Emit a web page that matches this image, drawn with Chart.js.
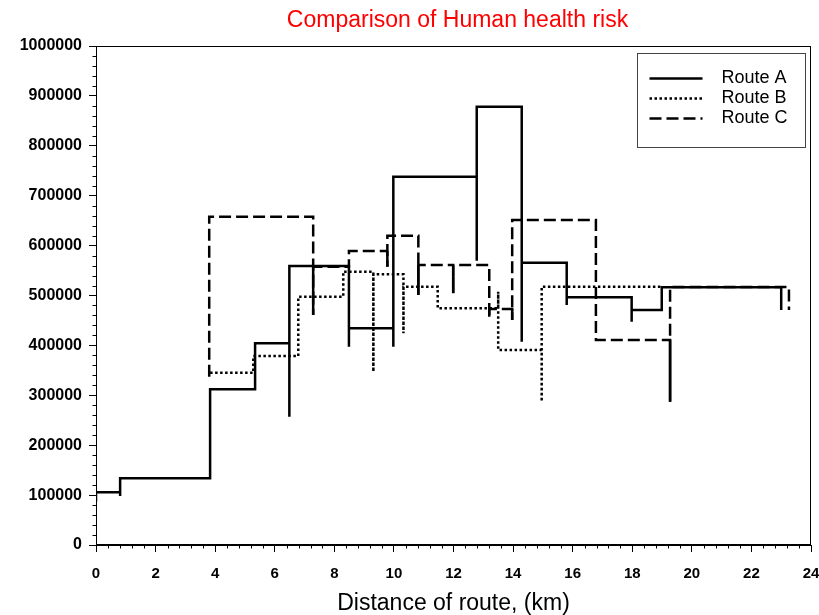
<!DOCTYPE html>
<html>
<head>
<meta charset="utf-8">
<title>Comparison of Human health risk</title>
<script src="https://cdn.jsdelivr.net/npm/chart.js@4.4.1/dist/chart.umd.min.js"></script>
<style>
  body { margin: 0; background: #fff; }
  #chart_area { display: block; }
</style>
</head>
<body>
<canvas id="chart_area" width="819" height="615"></canvas>
<script>
// step profiles: distance (km) / risk
// repeated x = vertical jump (incl. the little spikes at each change)
const routeAX = [0, 0, 0.81, 0.81, 0.81, 3.83, 3.83, 5.34, 5.34, 6.49, 6.49, 6.49, 8.49, 8.49, 8.49,
  9.98, 9.98, 9.98, 12.78, 12.78, 12.78, 14.29, 14.29, 14.29, 15.80, 15.80, 15.80, 17.98, 17.98, 17.98,
  18.99, 18.99, 23.0, 23.0];
const routeAY = [87000, 105600, 105600, 98200, 133700, 133700, 312000, 312000, 404200, 404200, 257100, 559100, 559100, 397400, 434300,
  434300, 397400, 738100, 738100, 569700, 878400, 878400, 407400, 565700, 565700, 481000, 496400, 496400, 447500, 470900,
  470900, 516400, 516400, 470900];

const routeBX = [3.83, 5.28, 5.28, 6.79, 6.79, 8.30, 8.30, 9.31, 9.31, 9.31, 10.32, 10.32, 10.32,
  11.47, 11.47, 13.50, 13.50, 13.50, 14.96, 14.96, 14.96, 18.99];
const routeBY = [345300, 345300, 378800, 378800, 497600, 497600, 547700, 547700, 347300, 542500, 542500, 424200, 517600,
  517600, 474300, 474300, 507600, 390800, 390800, 287200, 517600, 517600];

const routeCX = [3.80, 3.80, 7.29, 7.29, 7.29, 8.49, 8.49, 9.78, 9.78, 9.78, 10.82, 10.82, 10.82,
  11.99, 11.99, 11.99, 13.20, 13.20, 13.20, 13.97, 13.97, 13.97, 16.78, 16.78, 19.27, 19.27, 19.27, 23.26, 23.26];
const routeCY = [337000, 657900, 657900, 460900, 557700, 557700, 589200, 589200, 557700, 619800, 619800, 501000, 561100,
  561100, 504400, 561100, 561100, 457500, 472900, 472900, 450900, 651300, 651300, 410800, 410800, 287200, 517000, 517000, 470900];

const routeLabels = ['Route A', 'Route B', 'Route C'];
const xMajorTicks = [0, 2, 4, 6, 8, 10, 12, 14, 16, 18, 20, 22, 24];
const yMajorTicks = [0, 100000, 200000, 300000, 400000, 500000, 600000, 700000, 800000, 900000, 1000000];

const FONT = '"Liberation Sans", Arial, sans-serif';
let ctx = document.getElementById('chart_area').getContext('2d');
let chart = null;

const isMajor = (list, v) => list.some(m => Math.abs(m - v) < 1e-6);
const toPoints = (xs, ys) => xs.map((x, i) => ({x: x, y: ys[i]}));

// on route C the tip of every spike (past the nearer step) is drawn solid
function spikeTips(xs, ys) {
  const pts = [];
  for (let i = 1; i < xs.length - 1; i++) {
    if (xs[i - 1] !== xs[i] || xs[i + 1] !== xs[i]) continue;
    if ((ys[i] - ys[i - 1]) * (ys[i + 1] - ys[i]) >= 0) continue;
    const near = Math.abs(ys[i - 1] - ys[i]) < Math.abs(ys[i + 1] - ys[i]) ? ys[i - 1] : ys[i + 1];
    pts.push({x: xs[i], y: near}, {x: xs[i], y: ys[i]}, {x: xs[i], y: null});
  }
  return pts;
}

function lineSet(label, data, dash) {
  return {
    label: label,
    data: data,
    showLine: true,
    borderColor: '#000',
    borderWidth: 2.5,
    borderDash: dash,
    borderCapStyle: 'butt',
    borderJoinStyle: 'miter',
    pointRadius: 0,
    spanGaps: false,
  };
}

// title, frame, minor ticks and the boxed legend
const extras = {
  id: 'extras',
  afterDraw(chart) {
    const c = chart.ctx;
    const area = chart.chartArea;
    const xs = chart.scales.x, ys = chart.scales.y;
    c.save();

    c.fillStyle = '#ff0000';
    c.font = '23px ' + FONT;
    c.textAlign = 'center';
    c.textBaseline = 'alphabetic';
    c.fillText('Comparison of Human health risk', (area.left + area.right) / 2 + 4, 27);

    c.strokeStyle = '#000';
    c.lineWidth = 1;
    const l = Math.round(area.left) + 0.5, r = Math.round(area.right) - 0.5;
    const t = Math.round(area.top) + 0.5, b = Math.round(area.bottom) - 0.5;
    c.strokeRect(l, t, r - l, b - t);

    c.beginPath();
    xs.ticks.forEach(tk => {
      if (isMajor(xMajorTicks, tk.value)) return;
      const px = Math.round(xs.getPixelForValue(tk.value)) + 0.5;
      c.moveTo(px, b); c.lineTo(px, b + 4);
    });
    ys.ticks.forEach(tk => {
      if (isMajor(yMajorTicks, tk.value)) return;
      const py = Math.round(ys.getPixelForValue(tk.value)) + 0.5;
      c.moveTo(l - 4, py); c.lineTo(l, py);
    });
    c.stroke();

    const items = chart.data.datasets.filter(d => !d.noLegend);
    const w = 168, h = 94;
    const bx = Math.round(area.right - 6 - w) + 0.5, by = Math.round(area.top + 7) + 0.5;
    c.strokeStyle = '#444';
    c.strokeRect(bx, by, w, h);
    c.font = '18px ' + FONT;
    c.textAlign = 'left';
    c.textBaseline = 'middle';
    c.fillStyle = '#000';
    items.forEach((d, i) => {
      const y = by + 25 + i * 20;
      c.beginPath();
      c.setLineDash(d.borderDash);
      c.lineWidth = d.borderWidth;
      c.strokeStyle = d.borderColor;
      c.moveTo(bx + 12, y);
      c.lineTo(bx + 65, y);
      c.stroke();
      c.setLineDash([]);
      c.fillText(d.label, bx + 84, y);
    });
    c.restore();
  }
};

chart = new Chart(ctx, {
  type: 'scatter',
  data: {
    datasets: [
      lineSet(routeLabels[0], toPoints(routeAX, routeAY), []),
      lineSet(routeLabels[1], toPoints(routeBX, routeBY), [2.5, 2.5]),
      lineSet(routeLabels[2], toPoints(routeCX, routeCY), [12, 5]),
      Object.assign(lineSet('Route C spikes', spikeTips(routeCX, routeCY), []), {noLegend: true}),
    ]
  },
  options: {
    responsive: false,
    animation: false,
    layout: { padding: {top: 46, right: 8, left: 0, bottom: 0} },
    plugins: {
      legend: { display: false },
      tooltip: { enabled: false },
      title: { display: false },
    },
    scales: {
      x: {
        type: 'linear',
        min: 0,
        max: 24,
        border: { color: '#000', width: 1 },
        grid: {
          drawOnChartArea: false,
          tickLength: 7,
          tickColor: (c) => isMajor(xMajorTicks, c.tick.value) ? '#000' : 'rgba(0,0,0,0)',
        },
        ticks: {
          stepSize: 0.4,
          autoSkip: false,
          maxRotation: 0,
          padding: 13,
          color: '#000',
          font: {family: FONT, size: 15, weight: 'bold'},
          callback: (v) => isMajor(xMajorTicks, v) ? String(Math.round(v)) : '',
        },
        title: {
          display: true,
          text: 'Distance of route, (km)',
          color: '#000',
          font: {family: FONT, size: 23, lineHeight: 1},
          padding: 0,
        },
        afterFit: (s) => { s.height = 70; s.paddingLeft = 0; s.paddingRight = 0; },
      },
      y: {
        type: 'linear',
        min: 0,
        max: 1000000,
        border: { color: '#000', width: 1 },
        grid: {
          drawOnChartArea: false,
          tickLength: 7,
          tickColor: (c) => isMajor(yMajorTicks, c.tick.value) ? '#000' : 'rgba(0,0,0,0)',
        },
        ticks: {
          stepSize: 20000,
          autoSkip: false,
          padding: 7,
          color: '#000',
          font: {family: FONT, size: 16, weight: 'bold'},
          callback: (v) => isMajor(yMajorTicks, v) ? String(v) : '',
        },
        afterFit: (s) => { s.width = 96; s.paddingTop = 0; s.paddingBottom = 0; },
      }
    }
  },
  plugins: [extras]
});
</script>
</body>
</html>
